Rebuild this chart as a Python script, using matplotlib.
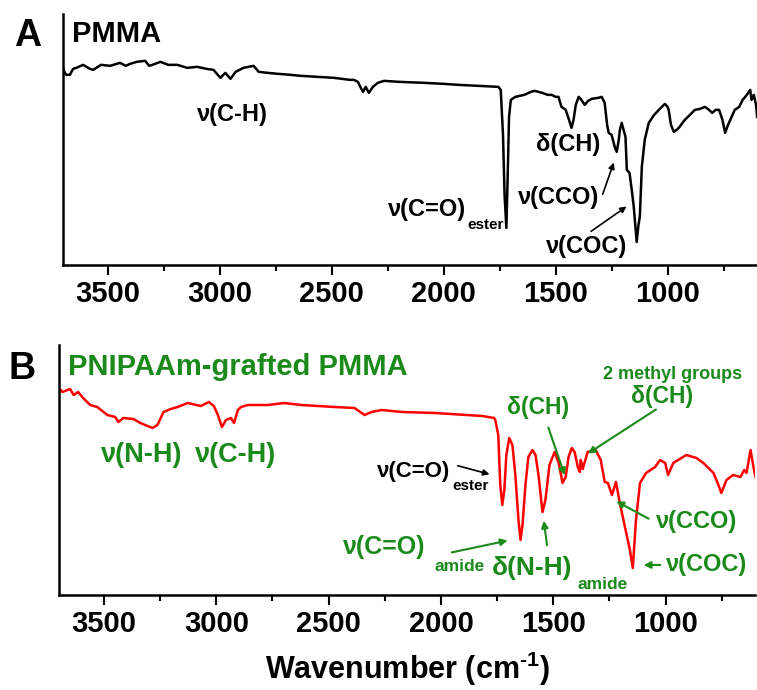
import numpy as np
import matplotlib
matplotlib.use("Agg")
import matplotlib.pyplot as plt
from matplotlib.ticker import MultipleLocator

plt.rcParams['font.family'] = ['Liberation Sans', 'DejaVu Sans']
plt.rcParams['font.weight'] = 'bold'
plt.rcParams['mathtext.fontset'] = 'custom'
plt.rcParams['mathtext.rm'] = 'Liberation Sans:bold'
plt.rcParams['mathtext.bf'] = 'Liberation Sans:bold'

# PMMA spectrum (wavenumber, transmittance a.u.)
pmma_wn = [3700, 3692, 3685, 3669, 3655, 3640, 3610, 3580, 3565, 3530, 3490, 3445, 3420, 3400,
           3370, 3333, 3315, 3300, 3265, 3230, 3190, 3145, 3100, 3060, 3028, 2997, 2975, 2952,
           2929, 2894, 2849, 2826, 2786, 2740, 2683, 2638, 2560, 2490, 2420, 2401, 2383, 2370,
           2360, 2348, 2334, 2316, 2294, 2266, 2200, 2087, 2000, 1935, 1850, 1770, 1756, 1745,
           1735, 1728, 1720, 1714, 1708, 1700, 1680, 1640, 1610, 1594, 1560, 1535, 1518, 1500,
           1487, 1474, 1455, 1440, 1429, 1420, 1410, 1397, 1385, 1370, 1355, 1339, 1310, 1294,
           1281, 1270, 1263, 1250, 1236, 1227, 1218, 1213, 1205, 1195, 1188, 1182, 1170, 1160,
           1151, 1138, 1130, 1124, 1115, 1102, 1084, 1060, 1039, 1012, 1000, 995, 985, 972,
           960, 950, 923, 900, 878, 855, 833, 815, 801, 785, 770, 755, 743, 730, 720, 700, 680,
           665, 653, 640, 631, 625, 615, 605, 600]
pmma_t = [197, 192, 190, 190, 196, 197, 200, 196, 195, 200, 199, 202, 199, 201,
          203, 204, 199, 200, 203, 200, 200, 197, 198, 196, 195, 187, 192, 186,
          193, 197, 199, 193, 192, 191, 190, 189, 188, 187, 185, 185, 183, 177,
          173, 178, 172, 178, 182, 184, 183, 182, 181, 180, 179, 178, 178, 175,
          130, 70, 37, 90, 148, 165, 168, 170, 173, 174, 172, 170, 170, 168,
          168, 158, 155, 145, 137, 145, 160, 168, 165, 160, 164, 166, 167, 168,
          162, 140, 132, 130, 118, 113, 125, 135, 142, 134, 128, 95, 92, 75,
          58, 23, 40, 48, 98, 125, 142, 150, 155, 161, 158, 155, 140, 133,
          135, 137, 145, 150, 155, 156, 158, 155, 152, 155, 155, 145, 132, 140, 145, 155, 158,
          165, 168, 172, 175, 165, 170, 160, 148]

# PNIPAAm-grafted PMMA spectrum
graft_wn = [3700, 3685, 3651, 3635, 3615, 3593, 3561, 3530, 3485, 3450, 3436, 3414, 3369, 3338,
            3306, 3284, 3262, 3235, 3203, 3172, 3127, 3069, 3033, 3011, 2993, 2975, 2957, 2935,
            2921, 2904, 2890, 2859, 2770, 2698, 2622, 2474, 2385, 2353, 2340, 2309, 2264, 2174,
            2027, 1816, 1763, 1758, 1745, 1736, 1727, 1718, 1709, 1696, 1682, 1669, 1655, 1646,
            1637, 1624, 1611, 1593, 1579, 1566, 1548, 1535, 1517, 1494, 1476, 1459, 1445, 1432,
            1418, 1405, 1391, 1382, 1378, 1374, 1369, 1347, 1311, 1289, 1271, 1257, 1239, 1221,
            1204, 1181, 1159, 1146, 1132, 1114, 1087, 1047, 1025, 1002, 989, 966, 908, 863,
            832, 787, 765, 752, 729, 700, 667, 650, 640, 622, 609, 600]
graft_t = [207, 203, 206, 200, 203, 197, 190, 188, 180, 178, 173, 177, 176, 172,
           169, 167, 170, 183, 186, 188, 192, 189, 193, 189, 180, 168, 175, 177,
           172, 185, 188, 190, 190, 192, 190, 188, 187, 182, 180, 183, 185, 183,
           182, 179, 177, 175, 160, 110, 90, 105, 140, 157, 150, 120, 75, 55,
           70, 110, 138, 145, 140, 120, 83, 95, 130, 143, 132, 112, 118, 138,
           147, 143, 128, 123, 135, 132, 126, 143, 145, 135, 113, 112, 100, 113,
           92, 68, 45, 27, 75, 112, 122, 128, 135, 132, 120, 132, 140, 137,
           132, 122, 110, 102, 115, 120, 118, 125, 122, 145, 128, 118]

ticks = [3500, 3000, 2500, 2000, 1500, 1000]
green = '#1a8a1a'

fig = plt.figure(figsize=(7.57, 6.9), dpi=100)
ax1 = fig.add_axes([0.0832, 0.616, 0.917, 0.364])
ax2 = fig.add_axes([0.078, 0.1377, 0.92, 0.3623])

ax1.plot(pmma_wn, pmma_t, color='black', lw=1.8)
ax2.plot(graft_wn, graft_t, color='red', lw=1.8)

for ax, top in [(ax1, 251), (ax2, 250)]:
    ax.set_xlim(3700, 600)
    ax.set_ylim(0, top)
    ax.set_xticks(ticks)
    ax.xaxis.set_minor_locator(MultipleLocator(250))
    ax.set_yticks([])
    for s in ['top', 'right']:
        ax.spines[s].set_visible(False)
    for s in ['left', 'bottom']:
        ax.spines[s].set_linewidth(1.8)
    ax.tick_params(axis='x', which='major', length=7, width=1.5, direction='out',
                   labelsize=21, pad=4)
    ax.tick_params(axis='x', which='minor', length=4.5, width=1.5, direction='out')
    for lab in ax.get_xticklabels():
        lab.set_fontweight('bold')

# panel A
fig.text(0.036, 0.948, 'A', fontsize=27, fontweight='bold', ha='center', va='center')
ax1.text(3660, 231, 'PMMA', fontsize=21, fontweight='bold', ha='left', va='center')
ax1.text(2943, 150, 'ν(C-H)', fontsize=17, ha='center', va='center')
ax1.text(1899, 55, 'ν(C=O)', fontsize=17, ha='right', va='center')
ax1.text(1892, 40, 'ester', fontsize=11, ha='left', va='center')
ax1.text(1442, 120, 'δ(CH)', fontsize=17, ha='center', va='center')
ax1.text(1487, 67, 'ν(CCO)', fontsize=17, ha='center', va='center')
ax1.text(1361, 18, 'ν(COC)', fontsize=17, ha='center', va='center')
arr = dict(arrowstyle='-|>', color='black', lw=1.2, mutation_scale=9)
ax1.annotate('', xy=(1236, 105), xytext=(1294, 68), arrowprops=arr)
ax1.annotate('', xy=(1173, 60), xytext=(1352, 32), arrowprops=arr)

# panel B
fig.text(0.029, 0.465, 'B', fontsize=27, fontweight='bold', ha='center', va='center')
ax2.text(3660, 228, 'PNIPAAm-grafted PMMA', fontsize=21, color=green, ha='left', va='center')
ax2.text(3338, 140, 'ν(N-H)', fontsize=19.5, color=green, ha='center', va='center')
ax2.text(2917, 140, 'ν(C-H)', fontsize=19.5, color=green, ha='center', va='center')
ax2.text(1960, 123, 'ν(C=O)', fontsize=16, ha='right', va='center')
ax2.text(1951, 109, 'ester', fontsize=11, ha='left', va='center')
ax2.annotate('', xy=(1772, 120), xytext=(1937, 130), arrowprops=arr)

garr = dict(arrowstyle='-|>', color=green, lw=1.5, mutation_scale=10)
ax2.text(1570, 187, 'δ(CH)', fontsize=16.5, color=green, ha='center', va='center')
ax2.annotate('', xy=(1445, 117), xytext=(1526, 170), arrowprops=garr)
ax2.text(971, 220, '2 methyl groups', fontsize=13, color=green, ha='center', va='center')
ax2.text(1016, 198, 'δ(CH)', fontsize=16.5, color=green, ha='center', va='center')
ax2.annotate('', xy=(1356, 140), xytext=(1033, 187), arrowprops=garr)
ax2.text(863, 73, 'ν(CCO)', fontsize=17, color=green, ha='center', va='center')
ax2.annotate('', xy=(1230, 95), xytext=(1065, 75), arrowprops=garr)
ax2.text(818, 30, 'ν(COC)', fontsize=17, color=green, ha='center', va='center')
ax2.annotate('', xy=(1110, 30), xytext=(1011, 30), arrowprops=garr)
ax2.text(2071, 48, 'ν(C=O)', fontsize=18, color=green, ha='right', va='center')
ax2.text(2027, 28, 'amide', fontsize=12.5, color=green, ha='left', va='center')
ax2.annotate('', xy=(1691, 55), xytext=(1964, 42), arrowprops=garr)
ax2.text(1414, 27, 'δ(N-H)', fontsize=19, color=green, ha='right', va='center')
ax2.text(1391, 10, 'amide', fontsize=12.5, color=green, ha='left', va='center')
ax2.annotate('', xy=(1544, 77), xytext=(1526, 47), arrowprops=garr)

ax2.set_xlabel('Wavenumber (cm$^{\\text{-1}}$)', fontsize=22, fontweight='bold', labelpad=8)

fig.savefig('out.png', dpi=100)
